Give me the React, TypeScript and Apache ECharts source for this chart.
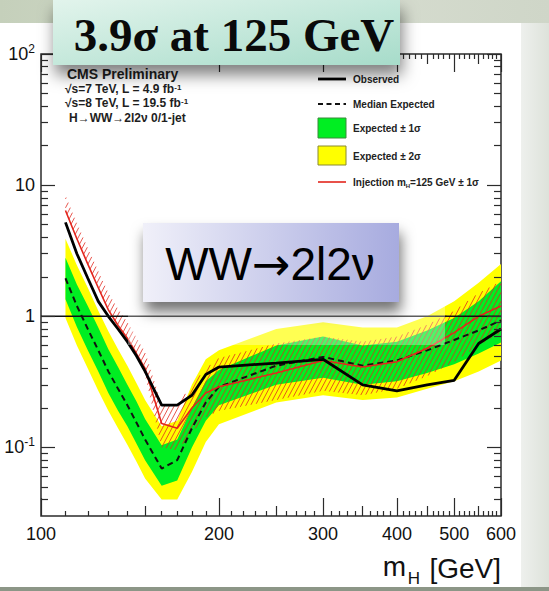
import React, { useEffect, useRef } from "react";
import * as echarts from "echarts";

// ---------------- data ----------------
const masses = [110, 115, 120, 125, 130, 135, 140, 145, 150, 160, 170, 180, 190, 200, 250, 300, 350, 400, 450, 500, 550, 600];
const observed = [5.2, 3.0, 1.95, 1.3, 1.0, 0.8, 0.64, 0.5, 0.38, 0.21, 0.21, 0.25, 0.36, 0.41, 0.44, 0.47, 0.3, 0.27, 0.3, 0.325, 0.62, 0.8];
const expMedian = [1.95, 1.2, 0.8, 0.55, 0.38, 0.28, 0.21, 0.155, 0.115, 0.069, 0.08, 0.14, 0.22, 0.29, 0.42, 0.49, 0.42, 0.46, 0.55, 0.66, 0.78, 0.93];
const exp1Up = [2.8, 1.75, 1.2, 0.82, 0.56, 0.41, 0.3, 0.225, 0.165, 0.104, 0.115, 0.2, 0.32, 0.39, 0.6, 0.7, 0.6, 0.64, 0.78, 0.97, 1.3, 1.85];
const exp1Down = [1.35, 0.83, 0.55, 0.38, 0.26, 0.19, 0.145, 0.107, 0.08, 0.051, 0.056, 0.1, 0.16, 0.21, 0.3, 0.34, 0.3, 0.32, 0.37, 0.43, 0.52, 0.63];
const exp2Up = [3.9, 2.45, 1.65, 1.1, 0.77, 0.56, 0.42, 0.31, 0.23, 0.145, 0.16, 0.3, 0.47, 0.55, 0.8, 0.9, 0.82, 0.82, 1.0, 1.3, 1.8, 2.5];
const exp2Down = [0.97, 0.6, 0.4, 0.27, 0.19, 0.14, 0.105, 0.078, 0.058, 0.04, 0.04, 0.065, 0.11, 0.15, 0.22, 0.25, 0.23, 0.24, 0.28, 0.32, 0.38, 0.46];
const injection = [6.4, 3.9, 2.5, 1.65, 1.12, 0.85, 0.68, 0.52, 0.4, 0.152, 0.14, 0.2, 0.26, 0.29, 0.37, 0.46, 0.41, 0.45, 0.57, 0.75, 1.0, 1.2];
const injUp = [8.3, 5.1, 3.3, 2.2, 1.5, 1.13, 0.9, 0.69, 0.53, 0.21, 0.21, 0.3, 0.4, 0.48, 0.62, 0.7, 0.64, 0.7, 0.86, 1.1, 1.5, 1.85];
const injDown = [6.4, 3.9, 2.5, 1.65, 1.12, 0.85, 0.68, 0.52, 0.36, 0.1, 0.095, 0.13, 0.17, 0.19, 0.23, 0.27, 0.25, 0.28, 0.35, 0.45, 0.6, 0.75];

const referenceLevel = [1, 1];
const referenceMasses = [100, 600];

const xMajorTicks = [100, 200, 300, 400, 500, 600];
const xMidTicks = [150, 250, 350, 450, 550];
const xMinorTicks = [110, 120, 130, 140, 160, 170, 180, 190, 210, 220, 230, 240, 260, 270, 280, 290, 310, 320, 330, 340, 360, 370, 380, 390, 410, 420, 430, 440, 460, 470, 480, 490, 510, 520, 530, 540, 560, 570, 580, 590];
const yMajorTicks = [0.1, 1, 10, 100];
const yMinorTicks = [0.04, 0.05, 0.06, 0.07, 0.08, 0.09, 0.2, 0.3, 0.4, 0.5, 0.6, 0.7, 0.8, 0.9, 2, 3, 4, 5, 6, 7, 8, 9, 20, 30, 40, 50, 60, 70, 80, 90];
const yTickLabels = ["{s|10}{e|-1}", "{s|1}", "{s|10}", "{s|10}{e|2}"];

const legendNames = ["Observed", "Median Expected", "Expected ± 1σ", "Expected ± 2σ", "{a|Injection m}{s|H}{a|=125 GeV ± 1σ}"];

const X_MIN = 100;
const X_MAX = 600;
const Y_MIN = 0.03;
const Y_MAX = 100;

// ---------------- helpers ----------------
const lg = (v: number) => Math.log10(v);
const pts = (ys: number[]) => masses.map((m, i) => [lg(m), lg(ys[i])]);

const SANS = "Liberation Sans, Arial, Helvetica, sans-serif";
const FRAME = "#2b2b2b";

function hatchSegments(poly: number[][], spacing: number, angleDeg: number) {
  const a = (angleDeg * Math.PI) / 180;
  const d = [Math.cos(a), -Math.sin(a)];
  const n = [Math.sin(a), Math.cos(a)];
  const s = poly.map((p) => p[0] * n[0] + p[1] * n[1]);
  const smin = Math.min(...s);
  const smax = Math.max(...s);
  const segs: number[][][] = [];
  for (let c = Math.ceil(smin / spacing) * spacing; c <= smax; c += spacing) {
    const us: number[] = [];
    for (let i = 0; i < poly.length; i++) {
      const j = (i + 1) % poly.length;
      const si = s[i];
      const sj = s[j];
      if ((si < c && sj >= c) || (sj < c && si >= c)) {
        const t = (c - si) / (sj - si);
        const px = poly[i][0] + t * (poly[j][0] - poly[i][0]);
        const py = poly[i][1] + t * (poly[j][1] - poly[i][1]);
        us.push(px * d[0] + py * d[1]);
      }
    }
    us.sort((x, y) => x - y);
    for (let k = 0; k + 1 < us.length; k += 2) {
      segs.push([
        [c * n[0] + us[k] * d[0], c * n[1] + us[k] * d[1]],
        [c * n[0] + us[k + 1] * d[0], c * n[1] + us[k + 1] * d[1]],
      ]);
    }
  }
  return segs;
}

function bandPolygon(api: any, up: number[], down: number[]) {
  const upper = masses.map((m, i) => api.coord([lg(m), lg(up[i])]));
  const lower = masses.map((m, i) => api.coord([lg(m), lg(down[i])])).reverse();
  return upper.concat(lower);
}

function bandSeries(name: string, up: number[], down: number[], color: string, z: number) {
  return {
    type: "custom",
    name,
    z,
    silent: true,
    xAxisIndex: 0,
    yAxisIndex: 0,
    itemStyle: { color },
    data: [[lg(300), 0]],
    renderItem: (_p: any, api: any) => ({
      type: "polygon",
      shape: { points: bandPolygon(api, up, down) },
      style: { fill: color, stroke: "none" },
    }),
  };
}

function hatchSeries(up: number[], down: number[], z: number) {
  return {
    type: "custom",
    name: "injBand",
    z,
    silent: true,
    xAxisIndex: 0,
    yAxisIndex: 0,
    itemStyle: { color: "#e02020" },
    data: [[lg(300), 0]],
    renderItem: (_p: any, api: any) => {
      const poly = bandPolygon(api, up, down);
      const segs = hatchSegments(poly, 4.2, 62);
      return {
        type: "group",
        children: segs.map((sg) => ({
          type: "line",
          shape: { x1: sg[0][0], y1: sg[0][1], x2: sg[1][0], y2: sg[1][1] },
          style: { stroke: "rgba(226,40,30,0.78)", lineWidth: 1 },
        })),
      };
    },
  };
}

function xAx(values: number[], len: number, position: string, labels: boolean) {
  return {
    type: "value",
    min: lg(X_MIN),
    max: lg(X_MAX),
    position,
    z: 10,
    splitLine: { show: false },
    axisLine: { show: false, onZero: false },
    axisTick: {
      show: true,
      inside: true,
      length: len,
      customValues: values.map(lg),
      lineStyle: { color: FRAME, width: 1.2 },
    },
    axisLabel: labels
      ? {
          show: true,
          customValues: values.map(lg),
          formatter: (v: number) => String(Math.round(Math.pow(10, v))),
          fontSize: 18,
          fontFamily: SANS,
          color: "#111",
          margin: 9,
        }
      : { show: false },
  };
}

function yAx(values: number[], len: number, position: string, labels: boolean) {
  return {
    type: "value",
    min: lg(Y_MIN),
    max: lg(Y_MAX),
    position,
    z: 10,
    splitLine: { show: false },
    axisLine: { show: false, onZero: false },
    axisTick: {
      show: true,
      inside: true,
      length: len,
      customValues: values.map(lg),
      lineStyle: { color: FRAME, width: 1.2 },
    },
    axisLabel: labels
      ? {
          show: true,
          customValues: yMajorTicks.map(lg),
          formatter: (v: number) => {
            const idx = yMajorTicks.findIndex((t) => Math.abs(lg(t) - v) < 1e-6);
            return idx >= 0 ? yTickLabels[idx] : "";
          },
          margin: 6,
          rich: {
            s: { fontSize: 18, fontFamily: SANS, color: "#111", lineHeight: 22 },
            e: { fontSize: 12, fontFamily: SANS, color: "#111", lineHeight: 12, verticalAlign: "top" },
          },
        }
      : { show: false },
  };
}

function txt(x: number, y: number, text: string, style: any, z = 30) {
  return {
    type: "text",
    x,
    y,
    z,
    silent: true,
    style: { text, ...style },
  };
}

export default function App() {
  const ref = useRef<HTMLDivElement>(null);
  useEffect(() => {
    if (!ref.current) return;
    const chart = echarts.init(ref.current, null, { renderer: "svg" });

    const lineSmall = { fontSize: 12, fontWeight: "bold", fontFamily: SANS, fill: "#1e1e1e", lineHeight: 12 };
    const supSmall = { fontSize: 8, fontWeight: "bold", fontFamily: SANS, fill: "#1e1e1e", lineHeight: 8, verticalAlign: "top" };
    const legText = { fontSize: 10, fontWeight: "bold", fontFamily: SANS, fill: "#222", verticalAlign: "middle" };
    const legRich = {
      a: { fontSize: 10, fontWeight: "bold", fontFamily: SANS, fill: "#222", lineHeight: 14 },
      s: { fontSize: 6, fontWeight: "bold", fontFamily: SANS, fill: "#222", lineHeight: 7, verticalAlign: "bottom" },
    };
    const LX = 318;
    const LT = 353;
    const legY = [79, 104, 128, 156, 182];

    const option: any = {
      animation: false,
      backgroundColor: "#ffffff",
      grid: {
        left: 41,
        top: 54,
        width: 460,
        height: 462,
        show: true,
        borderColor: FRAME,
        borderWidth: 1.5,
        backgroundColor: "transparent",
        outerBoundsMode: "none",
        containLabel: false,
      },
      xAxis: [
        xAx(xMajorTicks, 18, "bottom", true),
        xAx(xMidTicks, 10, "bottom", false),
        xAx(xMinorTicks, 5, "bottom", false),
        xAx(xMajorTicks, 18, "top", false),
        xAx(xMidTicks, 10, "top", false),
        xAx(xMinorTicks, 5, "top", false),
      ],
      yAxis: [
        yAx(yMajorTicks, 14, "left", true),
        yAx(yMinorTicks, 7, "left", false),
        yAx(yMajorTicks, 14, "right", false),
        yAx(yMinorTicks, 7, "right", false),
      ],
      series: [
        bandSeries("Expected ± 2σ", exp2Up, exp2Down, "#ffff00", 1),
        bandSeries("Expected ± 1σ", exp1Up, exp1Down, "#00ee22", 2),
        hatchSeries(injUp, injDown, 3),
        {
          type: "line",
          name: "Median Expected",
          z: 4,
          data: pts(expMedian),
          symbol: "none",
          showSymbol: false,
          silent: true,
          lineStyle: { color: "#111", width: 2, type: [6, 4] },
        },
        {
          type: "line",
          name: "Injection",
          z: 5,
          data: pts(injection),
          symbol: "none",
          showSymbol: false,
          silent: true,
          lineStyle: { color: "#e3261d", width: 1.6 },
        },
        {
          type: "line",
          name: "Observed",
          z: 6,
          data: pts(observed),
          symbol: "none",
          showSymbol: false,
          silent: true,
          lineStyle: { color: "#000", width: 2.8 },
        },
        {
          type: "line",
          name: "ref",
          z: 7,
          data: referenceMasses.map((m, i) => [lg(m), lg(referenceLevel[i])]),
          symbol: "none",
          showSymbol: false,
          silent: true,
          lineStyle: { color: "#111", width: 1.6 },
        },
      ],
      graphic: [
        // slide background strips
        {
          type: "rect",
          z: 0,
          silent: true,
          shape: { x: 0, y: 0, width: 549, height: 23 },
          style: {
            fill: new echarts.graphic.LinearGradient(0, 0, 1, 0, [
              { offset: 0, color: "#c5d0bb" },
              { offset: 0.6, color: "#d7ddd0" },
              { offset: 1, color: "#cfd6c8" },
            ]),
          },
        },
        {
          type: "rect",
          z: 0,
          silent: true,
          shape: { x: 521, y: 23, width: 28, height: 565 },
          style: {
            fill: new echarts.graphic.LinearGradient(0, 0, 1, 0, [
              { offset: 0, color: "#eef0ed" },
              { offset: 1, color: "#dde2da" },
            ]),
          },
        },
        {
          type: "rect",
          z: 0,
          silent: true,
          shape: { x: 0, y: 587, width: 549, height: 4 },
          style: { fill: "#8c9687" },
        },
        // legend
        { type: "line", z: 30, silent: true, shape: { x1: LX, y1: legY[0], x2: LX + 28, y2: legY[0] }, style: { stroke: "#000", lineWidth: 2.8 } },
        { type: "line", z: 30, silent: true, shape: { x1: LX, y1: legY[1], x2: LX + 28, y2: legY[1] }, style: { stroke: "#111", lineWidth: 2, lineDash: [5, 3.5] } },
        { type: "rect", z: 30, silent: true, shape: { x: LX, y: legY[2] - 10, width: 28, height: 20 }, style: { fill: "#00ee22", stroke: "#3a8a3a", lineWidth: 1 } },
        { type: "rect", z: 30, silent: true, shape: { x: LX, y: legY[3] - 10, width: 28, height: 19 }, style: { fill: "#ffff00", stroke: "#8a8a30", lineWidth: 1 } },
        { type: "line", z: 30, silent: true, shape: { x1: LX, y1: legY[4], x2: LX + 28, y2: legY[4] }, style: { stroke: "#e3261d", lineWidth: 1.6 } },
        txt(LT, legY[0], legendNames[0], legText),
        txt(LT, legY[1], legendNames[1], legText),
        txt(LT, legY[2], legendNames[2], legText),
        txt(LT, legY[3], legendNames[3], legText),
        txt(LT, legY[4], legendNames[4], { verticalAlign: "middle", rich: legRich }),
        // in-plot texts
        txt(67, 74, "CMS Preliminary", { fontSize: 14, fontWeight: "bold", fontFamily: SANS, fill: "#1e1e1e", verticalAlign: "middle" }),
        txt(65, 89, "{a|√s=7 TeV, L = 4.9 fb}{b|-1}", { verticalAlign: "middle", rich: { a: lineSmall, b: supSmall } }),
        txt(65, 103, "{a|√s=8 TeV, L = 19.5 fb}{b|-1}", { verticalAlign: "middle", rich: { a: lineSmall, b: supSmall } }),
        txt(69, 118, "H→WW→2l2ν 0/1-jet", { fontSize: 12, fontWeight: "bold", fontFamily: SANS, fill: "#1e1e1e", verticalAlign: "middle" }),
        // x axis title: m_H [GeV]
        txt(501, 568, "[GeV]", { fontSize: 28, fontFamily: SANS, fill: "#111", align: "right", verticalAlign: "middle" }),
        txt(420, 578, "H", { fontSize: 17, fontFamily: SANS, fill: "#111", align: "right", verticalAlign: "middle" }),
        txt(406, 566, "m", { fontSize: 28, fontFamily: SANS, fill: "#111", align: "right", verticalAlign: "middle" }),
        // white veil around WW box
        {
          type: "rect",
          z: 50,
          silent: true,
          shape: { x: 128, y: 208, width: 317, height: 137 },
          style: { fill: "rgba(255,255,255,0.32)" },
        },
        // WW box
        {
          type: "rect",
          z: 60,
          silent: true,
          shape: { x: 143, y: 223, width: 256, height: 79 },
          style: {
            fill: new echarts.graphic.LinearGradient(0, 0, 1, 0, [
              { offset: 0, color: "#f0f0f9" },
              { offset: 1, color: "#a7abdf" },
            ]),
            shadowBlur: 14,
            shadowOffsetX: 2,
            shadowOffsetY: 10,
            shadowColor: "rgba(0,0,0,0.55)",
          },
        },
        txt(270, 264, "{a|WW}{b|→}{a|2l2ν}", {
          align: "center",
          verticalAlign: "middle",
          rich: {
            a: { fontSize: 46, fontFamily: SANS, fill: "#000", lineHeight: 52 },
            b: { fontSize: 46, fontFamily: "DejaVu Sans, sans-serif", fill: "#000", lineHeight: 52 },
          },
        }, 61),
        // top box
        {
          type: "rect",
          z: 60,
          silent: true,
          shape: { x: 53, y: 0, width: 347, height: 65 },
          style: {
            fill: new echarts.graphic.LinearGradient(0, 0, 1, 1, [
              { offset: 0, color: "#e2f4ec" },
              { offset: 1, color: "#a7dcca" },
            ]),
            shadowBlur: 16,
            shadowOffsetX: 2,
            shadowOffsetY: 10,
            shadowColor: "rgba(0,0,0,0.5)",
          },
        },
        txt(234, 35, "3.9σ at 125 GeV", {
          fontSize: 47,
          fontWeight: "bold",
          fontFamily: "Liberation Serif, DejaVu Serif, serif",
          fill: "#0a0a0a",
          align: "center",
          verticalAlign: "middle",
        }, 61),
      ],
    };

    chart.setOption(option);
    return () => chart.dispose();
  }, []);

  return (
    <div style={{ position: "fixed", left: 0, top: 0, width: 549, height: 591, background: "#fff" }}>
      <div ref={ref} style={{ width: 549, height: 591 }} />
    </div>
  );
}
